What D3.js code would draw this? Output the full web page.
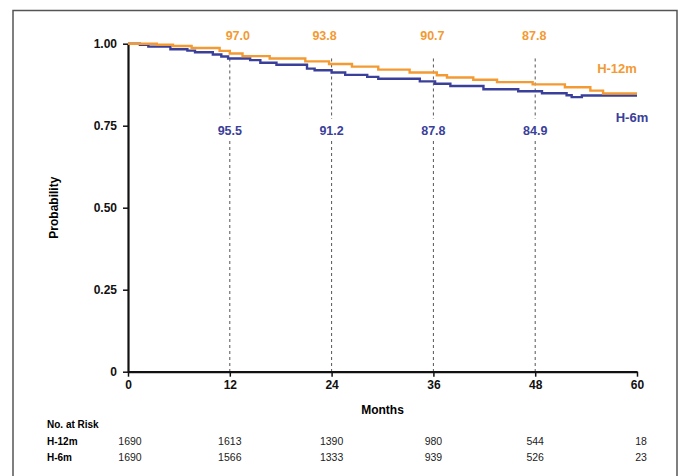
<!DOCTYPE html>
<html><head><meta charset="utf-8">
<script src="https://cdn.jsdelivr.net/npm/d3@7"></script>
<style>body{margin:0;background:#fff}svg{display:block;font-family:"Liberation Sans",Arial,sans-serif}</style>
</head><body><svg id="c" width="681" height="476"></svg>
<script>
const seriesNames = ["H-12m", "H-6m"];
const h12Months = [0,3.4,5.3,7.5,10.8,12,13.5,16.7,20.9,23.7,26.4,29.5,33.2,36.4,37.6,40.7,43.5,47.7,51.5,54.5,56,60];
const h12Prob   = [1,0.997,0.993,0.987,0.978,0.970,0.962,0.955,0.946,0.938,0.930,0.921,0.912,0.904,0.897,0.890,0.883,0.876,0.867,0.857,0.848,0.848];
const h6Months = [0,1.4,2.4,5,7,7.9,10,11,11.8,14.4,15.6,17.5,21.1,22,24,25.6,28.2,29.5,34.4,36.2,38,41.9,46,48.8,51.7,52.3,53.5,60];
const h6Prob   = [1,0.997,0.991,0.983,0.979,0.974,0.967,0.961,0.955,0.950,0.942,0.936,0.924,0.919,0.912,0.905,0.899,0.893,0.885,0.878,0.871,0.861,0.855,0.849,0.843,0.837,0.842,0.842];
const landmarkMonths = [12,24,36,48];
const h12Landmark = ["97.0","93.8","90.7","87.8"];
const h6Landmark  = ["95.5","91.2","87.8","84.9"];
const xTicks = [0,12,24,36,48,60];
const yTicks = [0,0.25,0.5,0.75,1];
const yTickLabels = ["0","0.25","0.50","0.75","1.00"];
const riskH12 = ["1690","1613","1390","980","544","18"];
const riskH6  = ["1690","1566","1333","939","526","23"];

const orange = "#F39A33", blue = "#3A409A";
const svg = d3.select("#c");
svg.append("rect").attr("x",13).attr("y",10.5).attr("width",664).attr("height",480)
  .attr("fill","none").attr("stroke","#555").attr("stroke-width",1.5);

const x = d3.scaleLinear().domain([0,60]).range([128,637]);
const y = d3.scaleLinear().domain([0,1]).range([371.7,43.7]);

// dashed landmark lines (broken around the blue labels)
const dash = svg.append("g").attr("stroke","#555").attr("stroke-width",1).attr("stroke-dasharray","3,3");
dash.selectAll(".top").data(landmarkMonths).join("line").attr("class","top")
  .attr("x1",d=>x(d)).attr("x2",d=>x(d)).attr("y1",y(0.955)).attr("y2",119);
dash.selectAll(".bot").data(landmarkMonths).join("line").attr("class","bot")
  .attr("x1",d=>x(d)).attr("x2",d=>x(d)).attr("y1",141).attr("y2",y(0));

// axes
const xa = svg.append("g").attr("transform",`translate(0,${y(0)})`)
  .call(d3.axisBottom(x).tickValues(xTicks).tickSize(5).tickSizeOuter(0).tickFormat(d3.format("d")));
const ya = svg.append("g").attr("transform",`translate(${x(0)},0)`)
  .call(d3.axisLeft(y).tickValues(yTicks).tickSize(5).tickSizeOuter(0).tickFormat((d,i)=>yTickLabels[i]));
[xa,ya].forEach(a=>{
  a.select(".domain").attr("stroke","#111").attr("stroke-width",2.2);
  a.selectAll(".tick line").attr("stroke","#111").attr("stroke-width",1.5);
  a.selectAll("text").attr("font-size",12).attr("font-weight","bold").attr("fill","#111")
   .attr("font-family","'Liberation Sans',Arial,sans-serif");
});
xa.selectAll("text").attr("dy","0.75em");
ya.selectAll("text").attr("dx","-3");

svg.append("text").attr("x",x(30)).attr("y",414).attr("text-anchor","middle")
  .attr("font-size",12).attr("font-weight","bold").text("Months");
svg.append("text").attr("transform",`translate(58,${y(0.5)}) rotate(-90)`).attr("text-anchor","middle")
  .attr("font-size",12).attr("font-weight","bold").text("Probability");

// curves
const line = d3.line().curve(d3.curveStepAfter).x(d=>x(d[0])).y(d=>y(d[1]));
const h12 = h12Months.map((m,i)=>[m,h12Prob[i]]);
const h6 = h6Months.map((m,i)=>[m,h6Prob[i]]);
svg.append("path").datum(h6).attr("d",line).attr("fill","none").attr("stroke",blue).attr("stroke-width",2.4);
svg.append("path").datum(h12).attr("d",line).attr("fill","none").attr("stroke",orange).attr("stroke-width",2.4);

// landmark labels
const lab = svg.append("g").attr("font-size",12.5).attr("text-anchor","middle").attr("font-weight","bold");
lab.selectAll(".o").data(landmarkMonths).join("text").attr("class","o")
  .attr("x",(d,i)=>x(d)+[8,-7,-1,-1][i]).attr("y",40).attr("fill",orange)
  .text((d,i)=>h12Landmark[i]);
lab.selectAll(".b").data(landmarkMonths).join("text").attr("class","b")
  .attr("x",d=>x(d)).attr("y",135).attr("fill",blue)
  .text((d,i)=>h6Landmark[i]);

// series labels
svg.append("text").attr("x",617).attr("y",73).attr("text-anchor","middle").attr("fill",orange)
  .attr("font-size",13).attr("font-weight","bold").text(seriesNames[0]);
svg.append("text").attr("x",632).attr("y",122).attr("text-anchor","middle").attr("fill",blue)
  .attr("font-size",13).attr("font-weight","bold").text(seriesNames[1]);

// number at risk
svg.append("text").attr("x",47).attr("y",428).attr("font-size",10).attr("font-weight","bold").text("No. at Risk");
[[riskH12,seriesNames[0],445],[riskH6,seriesNames[1],461]].forEach(([vals,name,yy])=>{
  svg.append("text").attr("x",47).attr("y",yy).attr("font-size",10).attr("font-weight","bold").text(name);
  svg.append("g").selectAll("text").data(vals).join("text")
    .attr("x",(d,i)=>x(xTicks[i])+(i==0?2:i==5?4:0)).attr("y",yy).attr("text-anchor","middle")
    .attr("font-size",10.5).attr("fill","#222").text(d=>d);
});
</script></body></html>
